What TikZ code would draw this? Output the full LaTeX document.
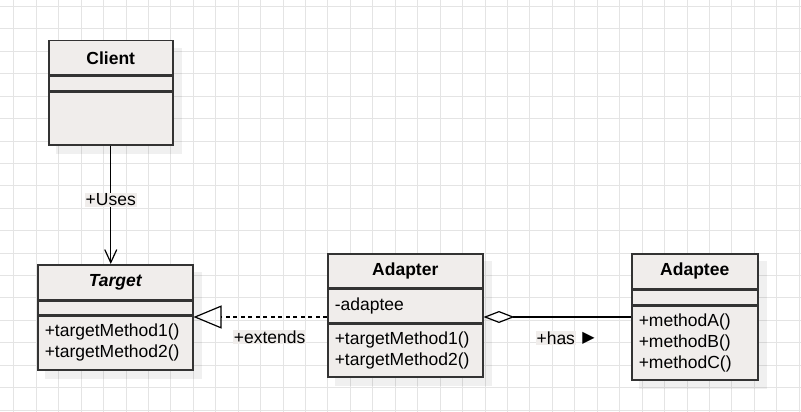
\documentclass[tikz,border=0pt]{standalone}
\usepackage{fontspec}
\setmainfont{Liberation Sans}
\newfontfamily\symfont{DejaVu Sans}
\usetikzlibrary{arrows.meta,calc,positioning,backgrounds}

\definecolor{boxfill}{HTML}{F0EDEB}
\definecolor{boxline}{HTML}{333333}
\definecolor{gridgray}{HTML}{E4E4E4}

\tikzset{
  umlfont/.style={font=\fontsize{17.5}{21}\selectfont},
  classhead/.style={draw=boxline, fill=boxfill, line width=1.5pt, inner xsep=0pt, inner ysep=0pt,
    text width=#1, align=center, anchor=north west, font=\fontsize{17.5}{21}\selectfont\bfseries},
  classpart/.style={draw=boxline, fill=boxfill, line width=1.5pt, inner xsep=7pt, inner ysep=0pt,
    text width=#1, align=left, umlfont},
  relation/.style={line width=1.2pt, black},
  rellabel/.style={fill=boxfill, inner sep=1pt, umlfont},
  gridline/.style={gridgray, line width=1pt},
  shadowbox/.style={fill=black, opacity=0.06}
}

\begin{document}
\begin{tikzpicture}[x=1pt, y=-1pt]
    \useasboundingbox (0,0) rectangle (801,412);

    % classes
    \node[classhead=124pt, minimum height=34pt] at (48,40) (client) {Client};
    \node[classpart=110pt, minimum height=15pt, below=0pt of client] (client-a) {};
    \node[classpart=110pt, minimum height=52pt, below=0pt of client-a] (client-m) {};

    \node[classhead=155pt, minimum height=35pt] at (37,264) (target) {\itshape Target};
    \node[classpart=141pt, minimum height=13pt, below=0pt of target] (target-a) {};
    \node[classpart=141pt, minimum height=54pt, below=0pt of target-a] (target-m) {+targetMethod1()\\+targetMethod2()};

    \node[classhead=155pt, minimum height=34pt] at (327,253) (adapter) {Adapter};
    \node[classpart=141pt, minimum height=33pt, below=0pt of adapter] (adapter-a) {-adaptee};
    \node[classpart=141pt, minimum height=53pt, below=0pt of adapter-a] (adapter-m) {+targetMethod1()\\+targetMethod2()};

    \node[classhead=126pt, minimum height=35pt] at (631,253) (adaptee) {Adaptee};
    \node[classpart=112pt, minimum height=14pt, below=0pt of adaptee] (adaptee-a) {};
    \node[classpart=112pt, minimum height=74pt, below=0pt of adaptee-a] (adaptee-m) {+methodA()\\+methodB()\\+methodC()};

    % relations
    \draw[relation, -{Straight Barb[length=13pt, width=12pt, line width=1.2pt]}] (client-m.south) -- (client-m.south |- target.north)
        node[rellabel, pos=0.46] (uses) {+Uses};

    \coordinate (extstart) at ($(adapter-a.south west)+(0,-6)$);
    \draw[relation, dash pattern=on 4pt off 3.5pt, -{Triangle[open, length=28pt, width=23pt, line width=1.2pt]}] (extstart) -- (extstart -| target-m.east)
        node[rellabel, pos=0.43, yshift=-20pt] (extends) {+extends};

    \coordinate (hasstart) at ($(adapter-a.south east)+(0,-6)$);
    \draw[relation, {Diamond[open, length=31pt, width=12pt, line width=1.2pt]}-] (hasstart) -- (hasstart -| adaptee-m.west)
        node[rellabel, pos=0.49, yshift=-21pt, label={[inner sep=0pt, font=\symfont\fontsize{16}{18}\selectfont]right:\ ▶}] (has) {+has};

    \begin{pgfonlayer}{background}
        \foreach \i in {0,...,35}
            \draw[gridline] (13.8+22.44*\i,0) -- ++(0,412);
        \foreach \i in {0,...,18}
            \draw[gridline] (0,6.5+22.42*\i) -- ++(801,0);
        \foreach \top/\bot in {client/client-m, target/target-m, adapter/adapter-m, adaptee/adaptee-m}
            \fill[shadowbox] ($(\top.north west)+(8,8)$) rectangle ($(\bot.south east)+(8,8)$);
    \end{pgfonlayer}

\end{tikzpicture}
\end{document}
